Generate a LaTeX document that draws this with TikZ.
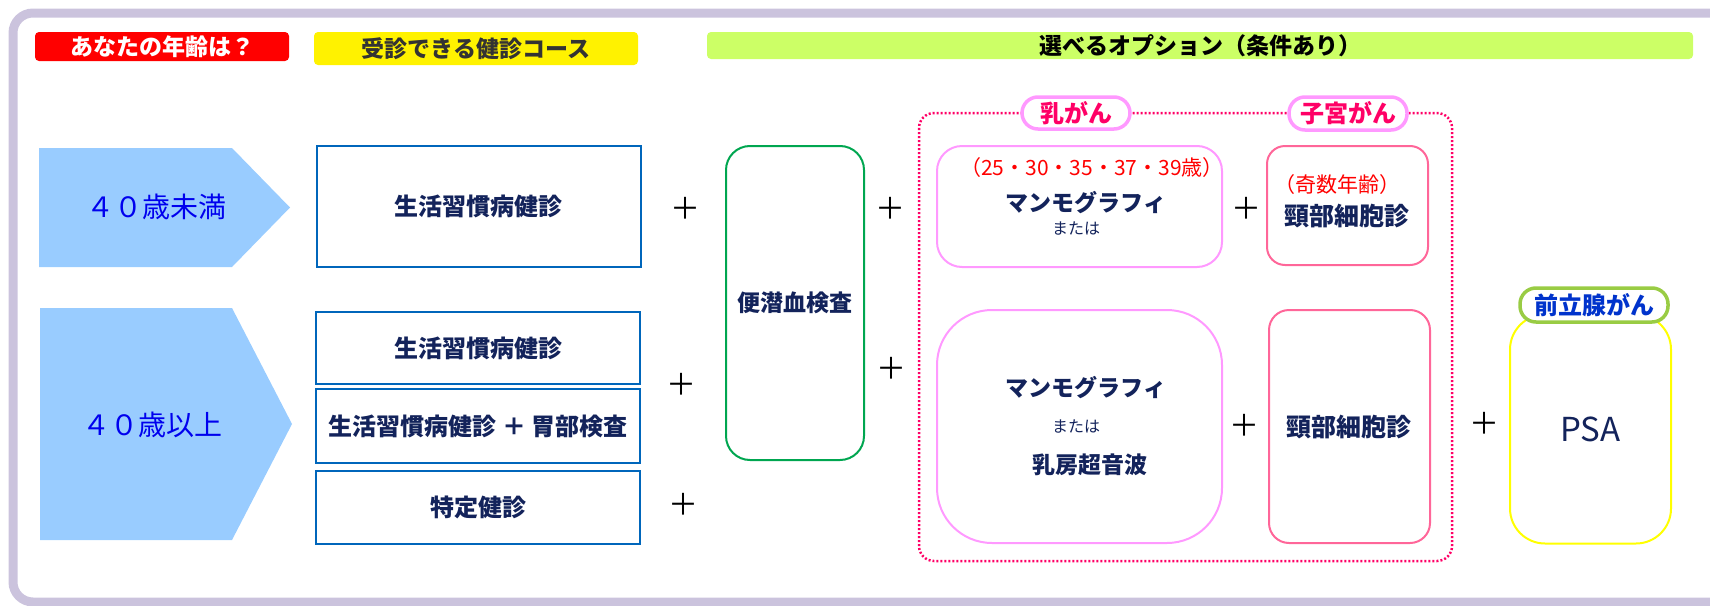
\documentclass[tikz,border=0pt]{standalone}
\usepackage{fontspec}
\setmainfont{Noto Sans CJK JP}
\usetikzlibrary{positioning}
\definecolor{framelilac}{HTML}{CBC3DD}
\definecolor{navy}{HTML}{13235B}
\definecolor{courseblue}{HTML}{0066BB}
\definecolor{agefill}{HTML}{99CCFF}
\definecolor{agetext}{HTML}{0000EE}
\definecolor{headgreen}{HTML}{CCFF66}
\definecolor{fobgreen}{HTML}{00A650}
\definecolor{optpink}{HTML}{FF0066}
\definecolor{mammopink}{HTML}{FF99FF}
\definecolor{cervixpink}{HTML}{FF6699}
\definecolor{psayellow}{HTML}{FFFF00}
\definecolor{psagreen}{HTML}{99CC44}
\definecolor{psablue}{HTML}{0033CC}
\newcommand{\fsz}[1]{\fontsize{#1}{#1}\selectfont}

\tikzset{
  header/.style={rounded corners=4pt, inner sep=0pt, font=\bfseries\fsz{23}},
  course/.style={draw=courseblue, line width=2pt, minimum width=324pt, inner sep=0pt,
    text=navy, font=\bfseries\fsz{24}},
  optbox/.style={line width=2pt, minimum width=285pt, inner sep=0pt},
  pill/.style={fill=white, line width=3.5pt, inner sep=0pt, rounded corners=16pt, font=\bfseries\fsz{24}},
  plus/.style={font=\fsz{30}, inner sep=0pt},
  boxtext/.style={text=navy, font=\bfseries\fsz{23}, inner sep=0pt},
  smalltext/.style={text=navy, font=\fsz{16}, inner sep=0pt},
  redtext/.style={text=red, font=\fsz{21}, inner sep=0pt}
}

\begin{document}
\begin{tikzpicture}[x=1pt, y=-1pt]
    \useasboundingbox (0,0) rectangle (1710,605);
    % outer frame
    \draw[framelilac, line width=9pt, rounded corners=20pt] (13,13) rectangle (1740,602);

    % headings
    \node[header, fill=red, text=white, minimum width=254pt, minimum height=29pt] (askage) at (162,46.5) {あなたの年齢は？};
    \node[header, fill=yellow, text=black!80, minimum width=324pt, minimum height=33pt] (coursehead) at (476,48.5) {受診できる健診コース};
    \node[header, fill=headgreen, text=black, minimum width=986pt, minimum height=27pt] (optionhead) at (1200,45.5) {選べるオプション（条件あり）};

    % age arrows
    \fill[agefill] (39,148) -- (232,148) -- (290,207.5) -- (232,267) -- (39,267) -- cycle;
    \node[text=agetext, font=\fsz{28}] (under40) at (156,207) {４０歳未満};
    \fill[agefill] (40,308) -- (232,308) -- (292,424) -- (232,540) -- (40,540) -- cycle;
    \node[text=agetext, font=\fsz{28}] (over40) at (152,425) {４０歳以上};

    % courses
    \node[course, minimum height=121pt] (lifeA) at (478.5,206.5) {生活習慣病健診};
    \node[course, minimum height=72pt] (lifeB) at (478,348) {生活習慣病健診};
    \node[course, minimum height=74pt] (lifestomach) at (478,426) {生活習慣病健診 ＋ 胃部検査};
    \node[course, minimum height=73pt] (specific) at (478,507.5) {特定健診};

    \node[plus] (plusA) at (685,208) {＋};
    \node[plus] (plusB) at (681,384) {＋};
    \node[plus] (plusC) at (683,504) {＋};

    % fecal occult blood
    \node[draw=fobgreen, line width=2pt, rounded corners=24pt, minimum width=138pt, minimum height=314pt,
      boxtext] (fob) at (795,303) {便潜血検査};
    \node[plus] (plusD) at (890,208) {＋};
    \node[plus] (plusE) at (891,368) {＋};

    % breast / cervical options
    \draw[optpink, line width=2.5pt, dash pattern=on 2pt off 2pt, rounded corners=15pt] (919,113) rectangle (1452,561);
    \node[pill, draw=mammopink, text=optpink, minimum width=108pt, minimum height=32pt] (breast) at (1076,113) {乳がん};
    \node[pill, draw=mammopink, text=optpink, minimum width=118pt, minimum height=33pt] (uterus) at (1348,113.5) {子宮がん};

    \node[optbox, draw=mammopink, rounded corners=25pt, minimum height=121pt] (mammoA) at (1079.5,206.5) {};
    \node[redtext] (mammoAges) at (1092,168) {（25・30・35・37・39歳）};
    \node[boxtext] (mammoAname) at (1086,203) {マンモグラフィ};
    \node[smalltext] (mammoAor) at (1076,229) {または};
    \node[plus] (plusF) at (1246,208) {＋};
    \node[optbox, draw=cervixpink, rounded corners=18pt, minimum width=161pt, minimum height=119pt] (cervixA) at (1347.5,205.5) {};
    \node[redtext, anchor=west] (cervixAges) at (1274,185) {（奇数年齢）};
    \node[boxtext, font=\bfseries\fsz{25}] (cervixAname) at (1347,216) {頸部細胞診};

    \node[optbox, draw=mammopink, rounded corners=55pt, minimum height=233pt] (mammoB) at (1079.5,426.5) {};
    \node[boxtext] (mammoBname) at (1086,388) {マンモグラフィ};
    \node[smalltext] (mammoBor) at (1076,427) {または};
    \node[boxtext] (echo) at (1090,465) {乳房超音波};
    \node[plus] (plusG) at (1244,425) {＋};
    \node[optbox, draw=cervixpink, rounded corners=20pt, minimum width=161pt, minimum height=233pt] (cervixB) at (1349.5,426.5) {};
    \node[boxtext, font=\bfseries\fsz{25}] (cervixBname) at (1349,427) {頸部細胞診};

    % prostate
    \node[plus] (plusH) at (1484,423) {＋};
    \node[optbox, draw=psayellow, rounded corners=35pt, minimum width=161pt, minimum height=229pt,
      text=navy, font=\fsz{33}] (psa) at (1590.5,429) {PSA};
    \node[pill, draw=psagreen, text=psablue, minimum width=148pt, minimum height=34pt] (prostate) at (1594,305) {前立腺がん};
\end{tikzpicture}
\end{document}
